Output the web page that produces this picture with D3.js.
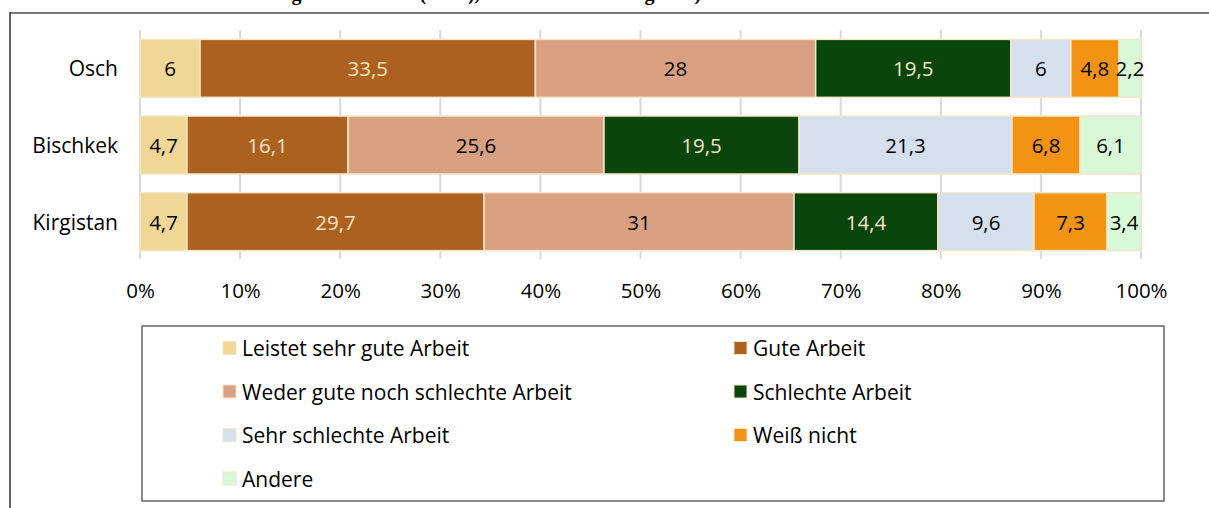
<!DOCTYPE html>
<html><head><meta charset="utf-8">
<script src="https://cdn.jsdelivr.net/npm/d3@7"></script>
<style>
html,body{margin:0;padding:0;background:#fff;}
text{font-family:"Open Sans","Noto Sans",sans-serif;}
</style></head>
<body><svg id="c" width="1209" height="508"></svg>
<script>
const categories = ["Osch", "Bischkek", "Kirgistan"];
const seriesNames = ["Leistet sehr gute Arbeit","Gute Arbeit","Weder gute noch schlechte Arbeit","Schlechte Arbeit","Sehr schlechte Arbeit","Weiß nicht","Andere"];
const seriesColors = ["#f0d795","#ad6120","#d9a081","#0a450b","#d6dfee","#f39314","#d8f8d8"];
const labelColors = ["#000","#f3e3c3","#000","#f3e3c3","#000","#000","#000"];
const osch = [6, 33.5, 28, 19.5, 6, 4.8, 2.2];
const bischkek = [4.7, 16.1, 25.6, 19.5, 21.3, 6.8, 6.1];
const kirgistan = [4.7, 29.7, 31, 14.4, 9.6, 7.3, 3.4];
const values = [osch, bischkek, kirgistan];
const tickValues = [0,0.1,0.2,0.3,0.4,0.5,0.6,0.7,0.8,0.9,1];
const titleText = "Einschätzung der Arbeiten (in %), Städte im Landvergleich)";

const svg = d3.select("#c");
const fmt = v => String(v).replace(".", ",");

// frame
svg.append("line").attr("x1",10).attr("x2",1209).attr("y1",13).attr("y2",13).attr("stroke","#7a7a7a").attr("stroke-width",2);
svg.append("line").attr("x1",10).attr("x2",10).attr("y1",12).attr("y2",508).attr("stroke","#333").attr("stroke-width",1.5);
// title (cut off at the top edge, as in the reference)
svg.append("text").attr("x",186).attr("y",0).attr("font-weight","bold").attr("font-size",20).attr("fill","#000")
  .style("font-family","'Liberation Serif',serif").text(titleText);

const x = d3.scaleLinear().domain([0,1]).range([140,1141]);
const y = d3.scaleBand().domain(categories).range([30,260]).paddingInner(0.244).paddingOuter(0.122);

// gridlines
svg.append("g").selectAll("line").data(tickValues).join("line")
  .attr("x1",d=>x(d)).attr("x2",d=>x(d)).attr("y1",30).attr("y2",259)
  .attr("stroke","#d9d9d9").attr("stroke-width",2);

// bars
categories.forEach((cat,ci)=>{
  const vals = values[ci];
  const total = d3.sum(vals);
  let cum = 0;
  const segs = vals.map((v,i)=>{ const s={i, v, x0:cum/total, x1:(cum+v)/total}; cum+=v; return s; });
  const g = svg.append("g");
  g.selectAll("rect").data(segs).join("rect")
    .attr("x",d=>x(d.x0)).attr("width",d=>x(d.x1)-x(d.x0))
    .attr("y",y(cat)).attr("height",y.bandwidth())
    .attr("fill",d=>seriesColors[d.i]).attr("stroke","#f4e6c9").attr("stroke-width",1.5);
  g.selectAll("text").data(segs).join("text")
    .attr("x",d=>(x(d.x0)+x(d.x1))/2).attr("y",y(cat)+y.bandwidth()/2)
    .attr("text-anchor","middle").attr("dominant-baseline","central")
    .attr("font-size",20.5).attr("fill",d=>labelColors[d.i]).text(d=>fmt(d.v));
});

// category labels
svg.append("g").selectAll("text").data(categories).join("text")
  .attr("x",118).attr("y",d=>y(d)+y.bandwidth()/2)
  .attr("text-anchor","end").attr("dominant-baseline","central")
  .attr("font-size",21).attr("fill","#000").text(d=>d);

// x axis
const ax = svg.append("g").attr("transform","translate(0,262)")
  .call(d3.axisBottom(x).tickValues(tickValues).tickSize(0).tickPadding(0).tickFormat(d3.format(".0%")));
ax.select(".domain").remove();
ax.selectAll("text").attr("font-size",20.5).attr("fill","#000").attr("dy",0).attr("y",36).style("font-family","'Open Sans',sans-serif");

// legend
svg.append("rect").attr("x",142).attr("y",326).attr("width",1022).attr("height",175)
  .attr("fill","none").attr("stroke","#6f6f6f").attr("stroke-width",1.6);
const lg = svg.append("g").selectAll("g").data(seriesNames).join("g")
  .attr("transform",(d,i)=>`translate(${i%2===0?223:734},${348+Math.floor(i/2)*43.5})`);
lg.append("rect").attr("x",0).attr("y",-6.5).attr("width",13).attr("height",13)
  .attr("fill",(d,i)=>seriesColors[i]).attr("stroke","#f4e6c9").attr("stroke-width",1);
lg.append("text").attr("x",19).attr("y",0).attr("dominant-baseline","central")
  .attr("font-size",21).attr("fill","#000").text(d=>d);
</script></body></html>
